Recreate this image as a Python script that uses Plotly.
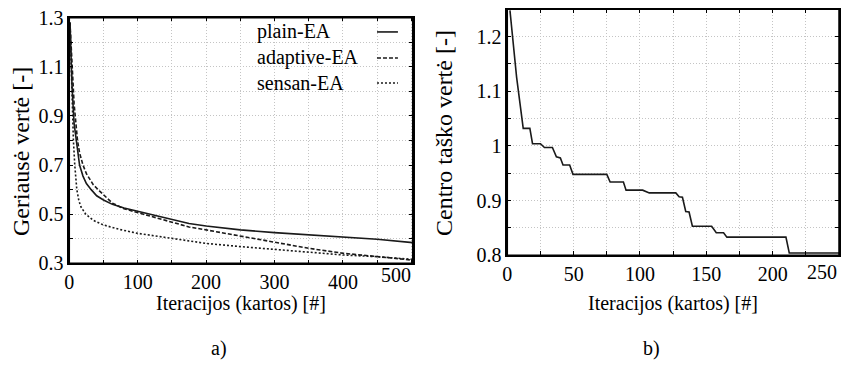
import plotly.graph_objects as go

# ---------------- data ----------------
plain_x = [1, 4, 7, 10, 12, 15, 20, 25, 32, 40, 50, 63, 80, 100, 125, 150, 175, 200, 250, 300, 350, 400, 450, 502]
plain_y = [1.28, 1.02, 0.87, 0.80, 0.75, 0.70, 0.655, 0.625, 0.60, 0.575, 0.558, 0.54, 0.525, 0.512,
           0.495, 0.478, 0.462, 0.452, 0.436, 0.425, 0.415, 0.406, 0.398, 0.384]

adaptive_x = [1, 4, 7, 10, 12, 15, 20, 25, 30, 35, 44, 50, 63, 80, 100, 125, 150, 175, 200, 250, 300, 350, 400, 450, 502]
adaptive_y = [1.28, 1.10, 0.95, 0.86, 0.80, 0.75, 0.70, 0.665, 0.64, 0.62, 0.595, 0.578, 0.545, 0.522,
              0.506, 0.485, 0.465, 0.448, 0.436, 0.411, 0.386, 0.361, 0.341, 0.327, 0.313]

sensan_x = [1, 3, 5, 6, 8, 11, 14, 17, 24, 35, 50, 75, 100, 125, 150, 175, 200, 250, 300, 350, 400, 450, 502]
sensan_y = [1.28, 1.05, 0.85, 0.80, 0.70, 0.60, 0.555, 0.53, 0.50, 0.475, 0.456, 0.437, 0.422, 0.411,
            0.402, 0.390, 0.381, 0.368, 0.357, 0.343, 0.334, 0.327, 0.316]

center_x = [2, 7, 12, 17, 19, 25, 28, 34, 37, 40, 42, 47, 49.5, 75, 77.5, 87.5, 89.5, 102, 107,
            127, 129.5, 132, 134.5, 137, 139.5, 154, 157.5, 163, 165.5, 210, 212.5, 250]
center_y = [1.248, 1.126, 1.032, 1.032, 1.004, 1.004, 0.997, 0.997, 0.98, 0.978, 0.965, 0.965, 0.948,
            0.948, 0.934, 0.934, 0.919, 0.919, 0.914, 0.914, 0.907, 0.906, 0.88, 0.879, 0.853, 0.853,
            0.841, 0.841, 0.833, 0.833, 0.804, 0.804]

series_names = ["plain-EA", "adaptive-EA", "sensan-EA"]

ax_tickvals = [0, 50, 100, 150, 200, 250, 300, 350, 400, 450, 500]
ax_ticktext = ["0", "", "100", "", "200", "", "300", "", "400", "", ""]
ay_tickvals = [0.3, 0.4, 0.5, 0.6, 0.7, 0.8, 0.9, 1.0, 1.1, 1.2, 1.3]
ay_ticktext = ["0.3", "", "0.5", "", "0.7", "", "0.9", "", "1.1", "", "1.3"]
bx_tickvals = [0, 25, 50, 75, 100, 125, 150, 175, 200, 225, 250]
bx_ticktext = ["0", "", "50", "", "100", "", "150", "", "200", "", ""]
by_tickvals = [0.8, 0.85, 0.9, 0.95, 1.0, 1.05, 1.1, 1.15, 1.2]
by_ticktext = ["0.8", "", "0.9", "", "1", "", "1.1", "", "1.2"]
# last x labels sit flush with the right frame, as in the reference
last_x_labels = ["500", "250"]

# ---------------- styling ----------------
FONT = "Liberation Serif"
OFF = 8            # the page body has an 8 px margin on every side
W, H = 855 - 2 * OFF, 352
LINE = "#1a1a1a"
dashes = ["solid", "4px,2px", "2px,2px"]

fig = go.Figure()

for name, xs, ys, dash in zip(series_names, [plain_x, adaptive_x, sensan_x],
                              [plain_y, adaptive_y, sensan_y], dashes):
    fig.add_trace(go.Scatter(x=xs, y=ys, mode="lines", name=name,
                             line=dict(color=LINE, width=1.6, dash=dash),
                             xaxis="x", yaxis="y", showlegend=False))

fig.add_trace(go.Scatter(x=center_x, y=center_y, mode="lines", name="centras",
                         line=dict(color=LINE, width=1.6),
                         xaxis="x2", yaxis="y2", showlegend=False))


def px_x(p):
    return (p - OFF) / W


def px_y(p):
    return 1 - (p - OFF) / H


axis_common = dict(
    showline=True, linecolor="black", linewidth=1.5, mirror="ticks",
    ticks="inside", ticklen=4, tickcolor="black", tickwidth=1,
    showgrid=True, gridcolor="#c4c4c4", gridwidth=1, griddash="1px,2px",
    zeroline=False, tickfont=dict(family=FONT, size=20, color="black"),
    tickmode="array", automargin=False, ticklabeloverflow="allow",
)

fig.update_layout(
    template="none",
    width=W, height=H,
    margin=dict(l=0, r=0, t=0, b=0, pad=0, autoexpand=False),
    paper_bgcolor="white", plot_bgcolor="white",
    font=dict(family=FONT, color="black"),
    showlegend=False,
    xaxis=dict(axis_common, domain=[px_x(69.3), px_x(412.7)], range=[0, 502],
               tickvals=ax_tickvals, ticktext=ax_ticktext, anchor="y"),
    yaxis=dict(axis_common, domain=[px_y(263.3), px_y(17.7)], range=[0.3, 1.3],
               tickvals=ay_tickvals, ticktext=ay_ticktext, anchor="x"),
    xaxis2=dict(axis_common, domain=[px_x(507.3), px_x(839)], range=[0, 250],
                tickvals=bx_tickvals, ticktext=bx_ticktext, anchor="y2"),
    yaxis2=dict(axis_common, domain=[px_y(255.2), px_y(9.3)], range=[0.8, 1.25],
                tickvals=by_tickvals, ticktext=by_ticktext, anchor="x2"),
)


def note(text, x, y, size, angle=0):
    return dict(text=text, x=px_x(x), y=px_y(y), xref="paper", yref="paper",
                xanchor="center", yanchor="middle", showarrow=False, textangle=angle,
                font=dict(family=FONT, size=size, color="black"))


ann = [
    note("Iteracijos (kartos) [#]", 241, 303, 20),
    note("Iteracijos (kartos) [#]", 673, 303, 20),
    note("Geriausė vertė [-]", 21, 152, 24, -90),
    note("Centro taško vertė [-]", 444, 133, 24, -90),
    note("a)", 219, 348, 20),
    note("b)", 651, 348, 20),
]

# last tick labels, right-aligned to the frame
for lab, xr, ypx in zip(last_x_labels, ["x domain", "x2 domain"], [275, 272]):
    ann.append(dict(text=lab, x=1, y=px_y(ypx), xref=xr, yref="paper",
                    xanchor="right", yanchor="middle", showarrow=False,
                    font=dict(family=FONT, size=20, color="black")))

# legend (gnuplot style: text then line sample)
legend_y = [0.942, 0.836, 0.734]
shapes = []
for name, dash, ly in zip(series_names, dashes, legend_y):
    ann.append(dict(text=name, x=0.541, y=ly, xref="x domain", yref="y domain",
                    xanchor="left", yanchor="middle", showarrow=False,
                    font=dict(family=FONT, size=20, color="black")))
    shapes.append(dict(type="line", xref="x domain", yref="y domain",
                       x0=0.896, x1=0.957, y0=ly, y1=ly,
                       line=dict(color=LINE, width=1.6, dash=dash)))

# plot frames
for xr, yr in [("x domain", "y domain"), ("x2 domain", "y2 domain")]:
    shapes.append(dict(type="rect", xref=xr, yref=yr, x0=0, x1=1, y0=0, y1=1,
                       line=dict(color="black", width=1.5), fillcolor="rgba(0,0,0,0)",
                       layer="above"))

fig.update_layout(annotations=ann, shapes=shapes)

fig.write_html("out.html")
